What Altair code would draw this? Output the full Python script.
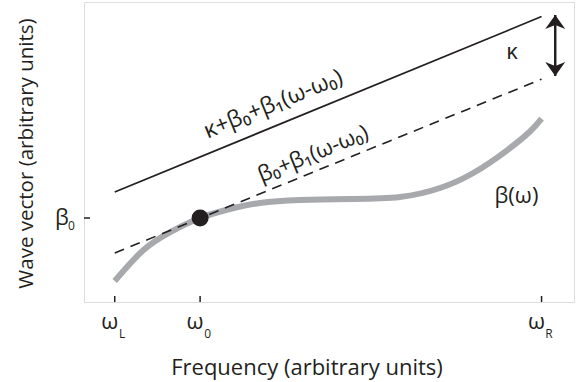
import altair as alt
import pandas as pd
import numpy as np

FONT = "Open Sans"
INK = "#231f20"

# ---- data (arbitrary units) ----
# frequency positions of the labelled ticks: omega_L, omega_0, omega_R
tick_x = [0.0, 1.0, 5.0]
tick_sub = ["L", "0", "R"]
beta0 = 0.98

# dispersion curve beta(omega)
curve_x = [0.0, 0.33, 0.65, 1.0, 1.35, 1.70, 2.17, 2.76, 3.34, 3.81, 4.20, 4.60, 4.87, 5.0]
curve_y = [0.245, 0.60, 0.815, 0.98, 1.085, 1.155, 1.19, 1.202, 1.225, 1.33, 1.505, 1.773, 1.995, 2.14]

# tangent line beta0 + beta1 (w - w0) and shifted line kappa + ...
line_x = [0.0, 5.0]
tangent_y = [0.572, 2.60]
shifted_y = [1.283, 3.33]

# operating point
point_x = [1.0]
point_y = [0.98]

# kappa arrow (tips)
arrow_x = 5.16
arrow_y = [2.637, 3.348]

# ---- tables ----
curve_df = pd.DataFrame({"x": curve_x, "y": curve_y})
tangent_df = pd.DataFrame({"x": line_x, "y": tangent_y})
shifted_df = pd.DataFrame({"x": line_x, "y": shifted_y})
point_df = pd.DataFrame({"x": point_x, "y": point_y})
ticks_df = pd.DataFrame({"x": tick_x, "main": ["ω"] * 3, "sub": tick_sub})
ytick_df = pd.DataFrame({"y": [beta0], "main": ["β"], "sub": ["0"]})
arrow_df = pd.DataFrame({"x": [arrow_x, arrow_x], "y": arrow_y})
arrow_top = pd.DataFrame({"x": [arrow_x], "y": [max(arrow_y)]})
arrow_bot = pd.DataFrame({"x": [arrow_x], "y": [min(arrow_y)]})

lab1_x = 1.95
lab2_x = 2.40
lab1_df = pd.DataFrame({"x": [lab1_x], "y": [float(np.interp(lab1_x, line_x, shifted_y))],
                        "t": ["κ+β₀+β₁(ω-ω₀)"]})
lab2_df = pd.DataFrame({"x": [lab2_x], "y": [float(np.interp(lab2_x, line_x, tangent_y))],
                        "t": ["β₀+β₁(ω-ω₀)"]})
free_labels_df = pd.DataFrame({"x": [4.706, 4.654], "y": [1.237, 2.917], "t": ["β(ω)", "κ"]})

xs = alt.Scale(domain=[-0.36, 5.38], nice=False, zero=False)
ys = alt.Scale(domain=[0, 3.5], nice=False, zero=False)

xaxis = alt.Axis(title="Frequency (arbitrary units)", labels=False, ticks=False, domain=False, grid=False,
                 titleFont=FONT, titleFontSize=22, titleFontWeight="normal", titleColor=INK,
                 titleX=222.5, titleY=72, titleAlign="center", titleBaseline="alphabetic")
yaxis = alt.Axis(title="Wave vector (arbitrary units)", labels=False, ticks=False, domain=False, grid=False,
                 titleFont=FONT, titleFontSize=20.5, titleFontWeight="normal", titleColor=INK,
                 titleX=-52, titleY=151, titleAngle=270, titleAlign="center", titleBaseline="alphabetic")


def X():
    return alt.X("x:Q", scale=xs, axis=xaxis)


def Y():
    return alt.Y("y:Q", scale=ys, axis=yaxis)


curve = alt.Chart(curve_df).mark_line(color="#a7a9ac", strokeWidth=6, strokeCap="butt", interpolate="natural").encode(x=X(), y=Y())
tangent = alt.Chart(tangent_df).mark_line(color=INK, strokeWidth=1.6, strokeDash=[10, 7]).encode(x=X(), y=Y())
shifted = alt.Chart(shifted_df).mark_line(color=INK, strokeWidth=1.7).encode(x=X(), y=Y())
dot = alt.Chart(point_df).mark_circle(color=INK, size=290, opacity=1).encode(x=X(), y=Y())

shaft = alt.Chart(arrow_df).mark_line(color=INK, strokeWidth=2.5).encode(x=X(), y=Y())
head_up = alt.Chart(arrow_top).mark_point(shape="M0,-0.7L1,0.7L0,0.3L-1,0.7Z", filled=True, color=INK,
                                          size=400, opacity=1, yOffset=7).encode(x=X(), y=Y())
head_dn = alt.Chart(arrow_bot).mark_point(shape="M0,0.7L1,-0.7L0,-0.3L-1,-0.7Z", filled=True, color=INK,
                                          size=400, opacity=1, yOffset=-7).encode(x=X(), y=Y())

xticks = alt.Chart(ticks_df).mark_rule(color=INK, strokeWidth=1.5).encode(x=X(), y=alt.value(300), y2=alt.value(294))
yticks = alt.Chart(ytick_df).mark_rule(color=INK, strokeWidth=1.5).encode(y=Y(), x=alt.value(0), x2=alt.value(6))

xlab_main = alt.Chart(ticks_df).mark_text(font=FONT, fontSize=22, color=INK, dx=-5, baseline="alphabetic").encode(
    x=X(), y=alt.value(327), text="main:N")
xlab_sub = alt.Chart(ticks_df).mark_text(font=FONT, fontSize=12, color=INK, dx=7.5, baseline="alphabetic").encode(
    x=X(), y=alt.value(336), text="sub:N")
ylab_main = alt.Chart(ytick_df).mark_text(font=FONT, fontSize=22, color=INK, dy=7, baseline="alphabetic").encode(
    y=Y(), x=alt.value(-22), text="main:N")
ylab_sub = alt.Chart(ytick_df).mark_text(font=FONT, fontSize=12, color=INK, dy=12, baseline="alphabetic").encode(
    y=Y(), x=alt.value(-12.5), text="sub:N")

lab1 = alt.Chart(lab1_df).mark_text(font=FONT, fontSize=23, color=INK, angle=337.7, dy=-14,
                                    baseline="alphabetic").encode(x=X(), y=Y(), text="t:N")
lab2 = alt.Chart(lab2_df).mark_text(font=FONT, fontSize=22, color=INK, angle=337.7, dy=-10,
                                    baseline="alphabetic").encode(x=X(), y=Y(), text="t:N")
free = alt.Chart(free_labels_df).mark_text(font=FONT, fontSize=22, color=INK, baseline="middle").encode(
    x=X(), y=Y(), text="t:N")

chart = alt.layer(
    curve, tangent, shifted, dot, shaft, head_up, head_dn, xticks, yticks,
    xlab_main, xlab_sub, ylab_main, ylab_sub, lab1, lab2, free
).properties(
    width=490, height=300,
    autosize=alt.AutoSizeParams(type="none"),
    padding={"left": 84, "top": 2, "right": 7, "bottom": 80},
).configure_view(stroke="#3a3a3a", strokeWidth=2).configure(background="white")

chart.save("out.html", embed_options={"renderer": "svg", "actions": False})
